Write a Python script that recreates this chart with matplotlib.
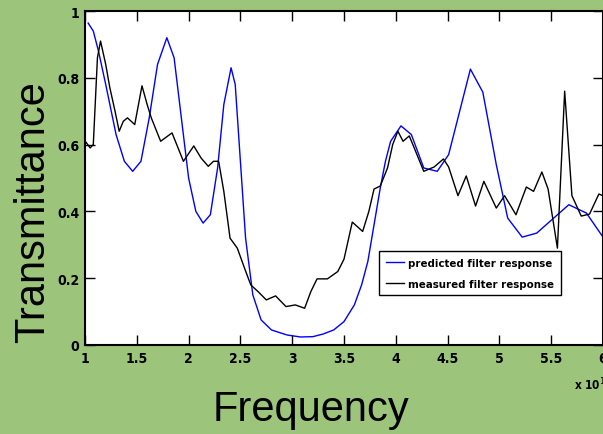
import matplotlib
matplotlib.use('Agg')
import matplotlib.pyplot as plt
from matplotlib import font_manager
from matplotlib.font_manager import FontProperties

# frequency in units of 1e11 Hz
f_pred = [1.03, 1.08, 1.13, 1.2, 1.3, 1.38, 1.46, 1.54, 1.62, 1.7, 1.79, 1.86, 1.93, 2.0,
          2.07, 2.14, 2.21, 2.28, 2.34, 2.41, 2.45, 2.5, 2.55, 2.62, 2.7, 2.8, 2.95, 3.08,
          3.2, 3.3, 3.4, 3.5, 3.6, 3.67, 3.73, 3.79, 3.85, 3.9, 3.95, 4.05, 4.15, 4.27,
          4.4, 4.51, 4.72, 4.84, 4.97, 5.08, 5.22, 5.36, 5.67, 5.84, 6.0]
t_pred = [0.964, 0.94, 0.88, 0.78, 0.63, 0.55, 0.52, 0.55, 0.68, 0.84, 0.92, 0.86, 0.68, 0.50,
          0.40, 0.365, 0.39, 0.53, 0.72, 0.83, 0.78, 0.55, 0.32, 0.15, 0.075, 0.045, 0.03, 0.024,
          0.025, 0.033, 0.045, 0.07, 0.12, 0.18, 0.25, 0.36, 0.47, 0.55, 0.61, 0.656, 0.63, 0.53,
          0.52, 0.57, 0.826, 0.757, 0.54, 0.38, 0.323, 0.335, 0.42, 0.395, 0.323]

f_meas = [1.01, 1.05, 1.08, 1.12, 1.15, 1.2, 1.24, 1.29, 1.33, 1.37, 1.41, 1.48, 1.55, 1.6,
          1.64, 1.73, 1.84, 1.95, 2.05, 2.12, 2.19, 2.24, 2.29, 2.34, 2.40, 2.47, 2.54, 2.6,
          2.67, 2.75, 2.84, 2.94, 3.03, 3.12, 3.18, 3.24, 3.34, 3.44, 3.5, 3.58, 3.68, 3.74,
          3.79, 3.85, 3.92, 3.97, 4.02, 4.07, 4.13, 4.17, 4.27, 4.37, 4.46, 4.51, 4.6, 4.68,
          4.77, 4.85, 4.97, 5.05, 5.16, 5.26, 5.33, 5.41, 5.47, 5.56, 5.63, 5.7, 5.79, 5.87,
          5.96, 6.0]
t_meas = [0.607, 0.59, 0.60, 0.86, 0.91, 0.84, 0.77, 0.70, 0.64, 0.67, 0.68, 0.66, 0.776, 0.72,
          0.68, 0.61, 0.635, 0.55, 0.596, 0.56, 0.535, 0.55, 0.55, 0.46, 0.32, 0.29, 0.23, 0.18,
          0.16, 0.135, 0.147, 0.115, 0.12, 0.11, 0.16, 0.198, 0.198, 0.22, 0.257, 0.368, 0.34, 0.40,
          0.467, 0.476, 0.53, 0.60, 0.64, 0.61, 0.626, 0.596, 0.52, 0.533, 0.557, 0.533, 0.447, 0.506,
          0.416, 0.49, 0.41, 0.447, 0.39, 0.473, 0.46, 0.518, 0.467, 0.29, 0.76, 0.447, 0.386, 0.392,
          0.452, 0.447]

xticks = [1, 1.5, 2, 2.5, 3, 3.5, 4, 4.5, 5, 5.5, 6]
xticklabels = ['1', '1.5', '2', '2.5', '3', '3.5', '4', '4.5', '5', '5.5', '6']
yticks = [0, 0.2, 0.4, 0.6, 0.8, 1]
yticklabels = ['0', '0.2', '0.4', '0.6', '0.8', '1']

# look for a narrow bold face, else fall back to Liberation Sans bold
narrow_file = None
for f in font_manager.fontManager.ttflist:
    fn = f.fname.lower()
    if ('narrow' in fn or 'condensed' in fn) and 'bold' in fn and 'oblique' not in fn and 'italic' not in fn:
        if 'mono' not in fn and 'serif' not in fn.replace('sans', ''):
            narrow_file = f.fname
            break
if narrow_file:
    def tickfont(size):
        return FontProperties(fname=narrow_file, size=size)
    leg_size = 8.2
    tick_size = 10
else:
    def tickfont(size):
        return FontProperties(family='Liberation Sans', weight='bold', size=size)
    leg_size = 7.6
    tick_size = 9

bg = '#9cc57b'

fig = plt.figure(figsize=(6.03, 4.35), dpi=100, facecolor=bg)
ax = fig.add_axes([85/603, 89/435, 518/603, 334/435])
ax.set_facecolor('white')

ax.plot(f_pred, t_pred, color='#0000ff', linewidth=1.0, label='predicted filter response')
ax.plot(f_meas, t_meas, color='black', linewidth=1.0, label='measured filter response')

ax.set_xlim(1, 6)
ax.set_ylim(0, 1)
ax.set_xticks(xticks)
ax.set_xticklabels(xticklabels)
ax.set_yticks(yticks)
ax.set_yticklabels(yticklabels)
ax.tick_params(direction='in', length=7, width=1, top=True, right=True, pad=4)
for lab in ax.get_xticklabels() + ax.get_yticklabels():
    lab.set_fontproperties(tickfont(tick_size))
for s in ax.spines.values():
    s.set_linewidth(1.5)

leg = ax.legend(loc='upper right', bbox_to_anchor=(0.919, 0.28), fancybox=False,
                edgecolor='black', framealpha=1, borderpad=0.6, handlelength=1.6,
                handletextpad=0.35, labelspacing=0.9, borderaxespad=0,
                prop=tickfont(leg_size))
leg.get_frame().set_linewidth(1.0)

fig.text(33/603, 1 - 212/435, 'Transmittance', rotation=90, ha='center', va='center',
         fontsize=30, family='Liberation Sans')
fig.text(311/603, 1 - 410/435, 'Frequency', ha='center', va='center',
         fontsize=30, family='Liberation Sans')
fig.text(574/603, 1 - 385/435, r'x 10$^{11}$', ha='left', va='center',
         fontproperties=tickfont(8.5))

fig.savefig('out.png', dpi=100, facecolor=bg)
